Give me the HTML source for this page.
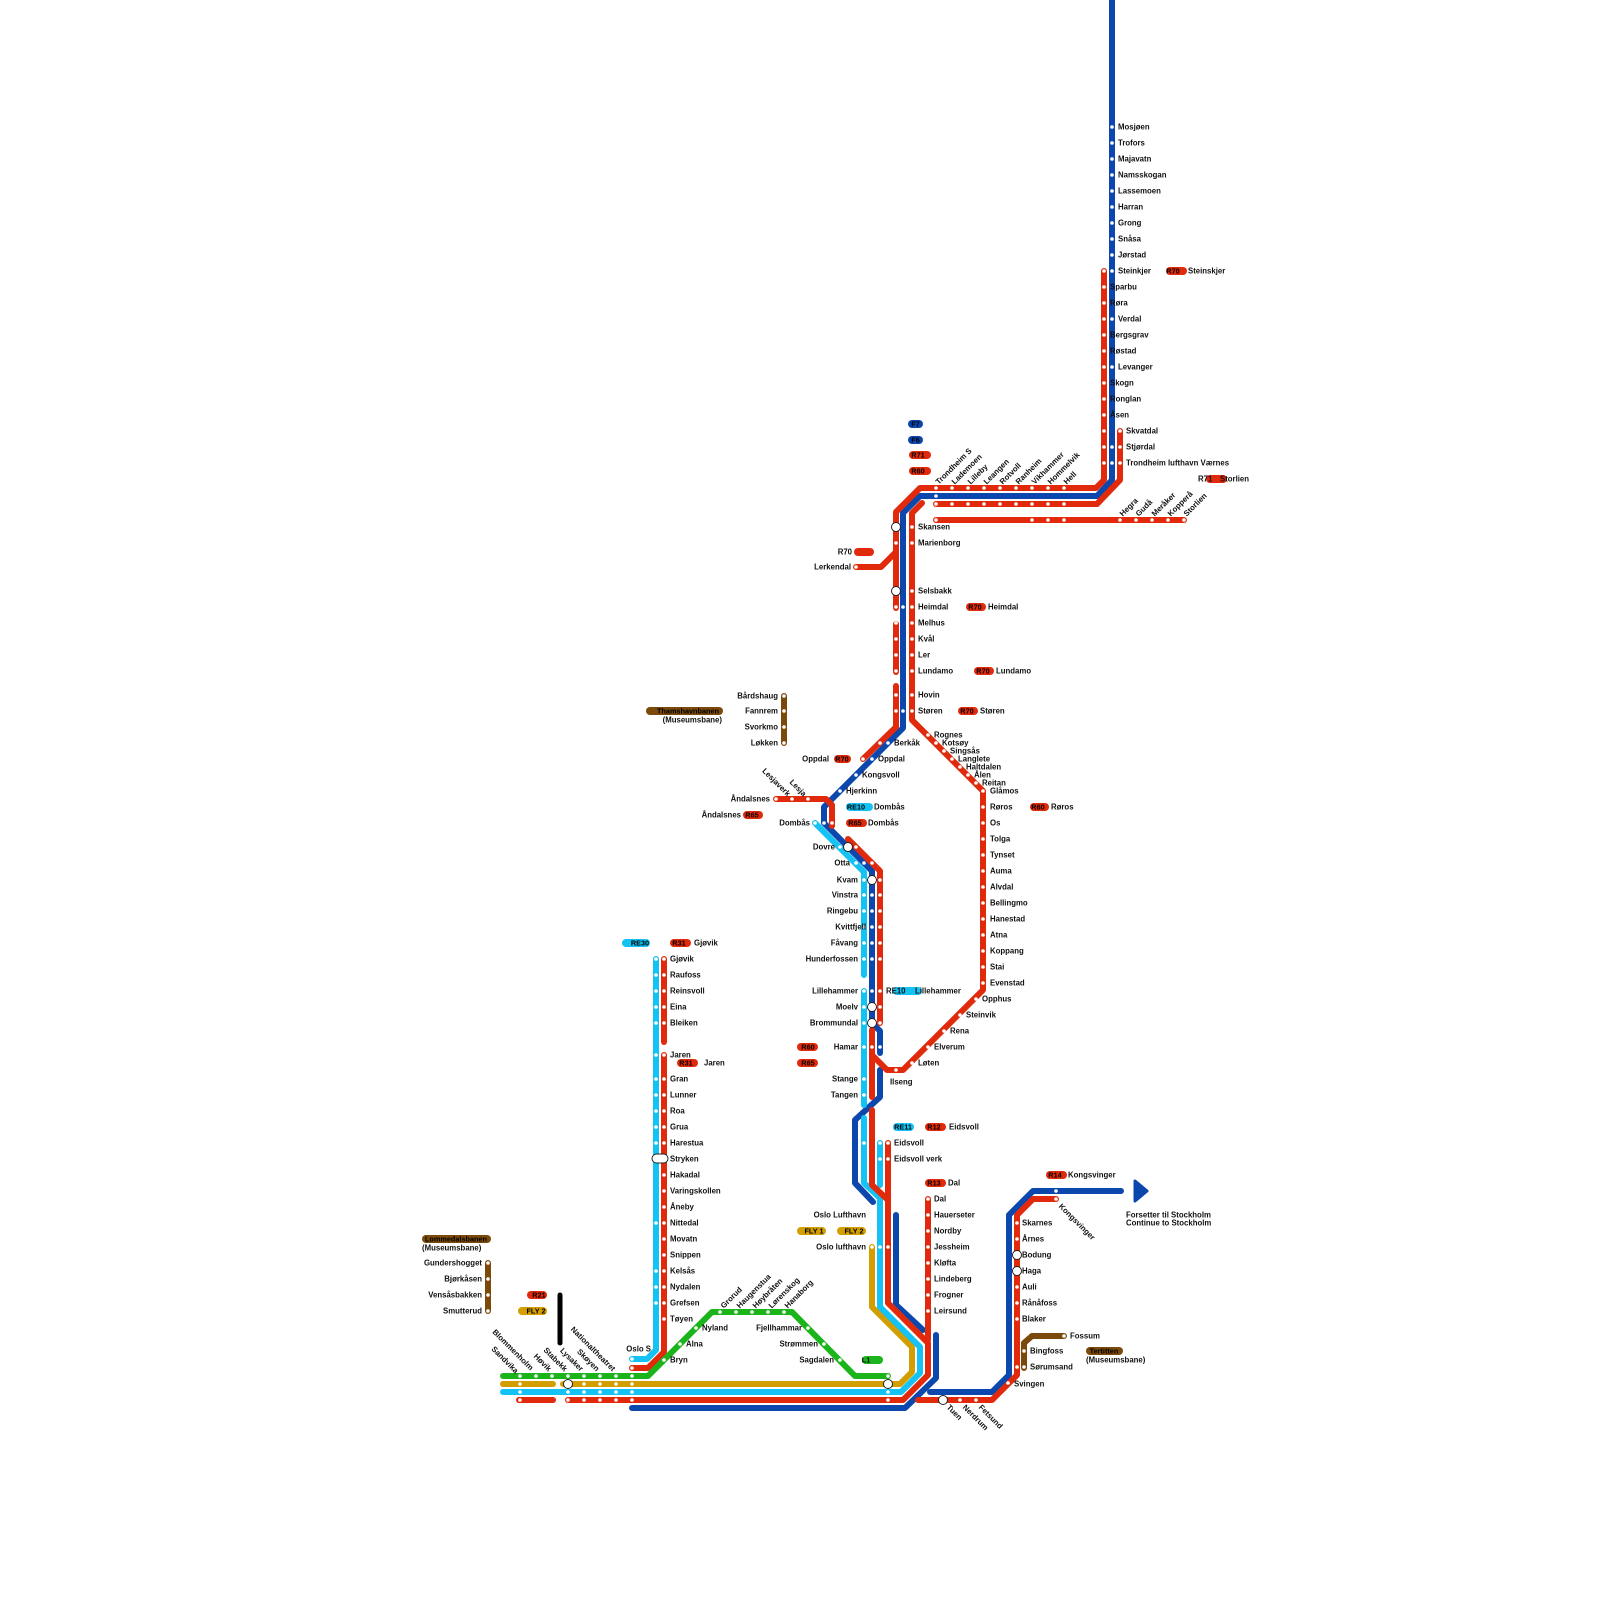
<!DOCTYPE html>
<html><head><meta charset="utf-8"><style>
html,body{margin:0;padding:0;background:#fff;}
svg{display:block;}
text{font-family:"Liberation Sans",Arial,sans-serif;font-size:7.8px;font-weight:bold;fill:#111;dominant-baseline:central;}
.e{text-anchor:end;}
.m{text-anchor:middle;font-size:7.3px;fill:#000;}
.l{fill:none;stroke-width:6;stroke-linecap:round;stroke-linejoin:round;}
.b{stroke:#0b47ad}.r{stroke:#e12a0b}.c{stroke:#14c2f3}.g{stroke:#1bb51b}.y{stroke:#d39e00}.w{stroke:#7b4a0b}
.d{fill:#fff}
.bc{fill:#fff;stroke:#222;stroke-width:1}
</style></head><body>
<svg width="1600" height="1600" viewBox="0 0 1600 1600" xmlns="http://www.w3.org/2000/svg">
<!-- BLUE -->
<path class="l b" d="M1112,0 V480 L1097,496 H920 L903,513 V728 L824,807 V823 L872,871 V1023 L880,1031 V1053"/>
<path class="l b" d="M880,1070 V1097 L855,1120 V1183 L873,1202"/>
<path class="l b" d="M896,1215 V1305 L923,1330"/>
<path class="l b" d="M632,1408 H905 L936,1378 V1335"/>
<path class="l b" d="M930,1392 H992 L1009,1375 V1215 L1033,1191 H1121"/>
<path d="M1135,1181 L1147,1191 L1135,1201 Z" fill="#0b47ad" stroke="#0b47ad" stroke-width="3" stroke-linejoin="round"/>
<!-- GOLD -->
<path class="l y" d="M872,1247 V1307 L912,1347 V1372 L900,1384 H563"/>
<path class="l y" d="M503,1384 H553"/>
<!-- CYAN -->
<path class="l c" d="M815,823 L864,872 V975"/>
<path class="l c" d="M864,991 V1105"/>
<path class="l c" d="M864,1118 V1183 L880,1198 V1307 L920,1347 V1373 L901,1392 H503"/>
<path class="l c" d="M880,1143 V1185"/>
<path class="l c" d="M656,959 V1350 L647,1359 H632"/>
<!-- RED -->
<path class="l r" d="M1104,271 V480 L1096,488 H920 L896,512 V608"/>
<path class="l r" d="M1120,431 V480 L1097,504 H936"/>
<path class="l r" d="M936,520 H1184"/>
<path class="l r" d="M922,503 L912,513 V720 L983,791 V990 L903,1070 H887 L872,1055"/>
<path class="l r" d="M896,624 V672"/>
<path class="l r" d="M896,686 V727 L863,759"/>
<path class="l r" d="M856,567 H881 L896,552"/>
<path class="l r" d="M776,799 H826 L832,805 V826"/>
<path class="l r" d="M848,839 L880,871 V1023"/>
<path class="l r" d="M872,1030 V1097"/>
<path class="l r" d="M872,1110 V1185 L888,1200"/>
<path class="l r" d="M888,1143 V1303 L928,1343 V1375 L903,1400 H568"/>
<path class="l r" d="M928,1199 V1340"/>
<path class="l r" d="M1056,1199 H1033 L1017,1215 V1375 L992,1400 H918"/>
<path class="l r" d="M519,1400 H553"/>
<path class="l r" d="M664,959 V1042"/>
<path class="l r" d="M664,1055 V1352 L648,1368 H632"/>
<!-- GREEN -->
<path class="l g" d="M503,1376 H648 L712,1312 H792 L855,1376 H888"/>
<!-- BLACK -->
<path d="M560,1295 V1343" stroke="#000" stroke-width="5" stroke-linecap="round"/>
<!-- BROWN -->
<path class="l w" d="M784,696 V743"/>
<path class="l w" d="M488,1263 V1311"/>
<path class="l w" d="M1024,1368 V1343 L1032,1336 H1064"/>

<!-- DOTS -->
<g class="d">
<circle cx="1112" cy="127" r="1.8"/><circle cx="1112" cy="143" r="1.8"/><circle cx="1112" cy="159" r="1.8"/><circle cx="1112" cy="175" r="1.8"/><circle cx="1112" cy="191" r="1.8"/><circle cx="1112" cy="207" r="1.8"/><circle cx="1112" cy="223" r="1.8"/><circle cx="1112" cy="239" r="1.8"/><circle cx="1112" cy="255" r="1.8"/><circle cx="1112" cy="271" r="1.8"/><circle cx="1112" cy="319" r="1.8"/><circle cx="1112" cy="367" r="1.8"/><circle cx="1112" cy="447" r="1.8"/><circle cx="1112" cy="463" r="1.8"/>
<circle cx="1104" cy="271" r="1.8"/><circle cx="1104" cy="287" r="1.8"/><circle cx="1104" cy="303" r="1.8"/><circle cx="1104" cy="319" r="1.8"/><circle cx="1104" cy="335" r="1.8"/><circle cx="1104" cy="351" r="1.8"/><circle cx="1104" cy="367" r="1.8"/><circle cx="1104" cy="383" r="1.8"/><circle cx="1104" cy="399" r="1.8"/><circle cx="1104" cy="415" r="1.8"/><circle cx="1104" cy="431" r="1.8"/><circle cx="1104" cy="447" r="1.8"/><circle cx="1104" cy="463" r="1.8"/>
<circle cx="1120" cy="431" r="1.8"/><circle cx="1120" cy="447" r="1.8"/><circle cx="1120" cy="463" r="1.8"/>
<circle cx="936" cy="488" r="1.8"/><circle cx="952" cy="488" r="1.8"/><circle cx="968" cy="488" r="1.8"/><circle cx="984" cy="488" r="1.8"/><circle cx="1000" cy="488" r="1.8"/><circle cx="1016" cy="488" r="1.8"/><circle cx="1032" cy="488" r="1.8"/><circle cx="1048" cy="488" r="1.8"/><circle cx="1064" cy="488" r="1.8"/>
<circle cx="936" cy="496" r="1.8"/>
<circle cx="936" cy="504" r="1.8"/><circle cx="952" cy="504" r="1.8"/><circle cx="968" cy="504" r="1.8"/><circle cx="984" cy="504" r="1.8"/><circle cx="1000" cy="504" r="1.8"/><circle cx="1016" cy="504" r="1.8"/><circle cx="1032" cy="504" r="1.8"/><circle cx="1048" cy="504" r="1.8"/><circle cx="1064" cy="504" r="1.8"/>
<circle cx="936" cy="520" r="1.8"/><circle cx="1032" cy="520" r="1.8"/><circle cx="1048" cy="520" r="1.8"/><circle cx="1064" cy="520" r="1.8"/><circle cx="1120" cy="520" r="1.8"/><circle cx="1136" cy="520" r="1.8"/><circle cx="1152" cy="520" r="1.8"/><circle cx="1168" cy="520" r="1.8"/><circle cx="1184" cy="520" r="1.8"/>
<circle cx="912" cy="527" r="1.8"/><circle cx="912" cy="543" r="1.8"/><circle cx="912" cy="591" r="1.8"/><circle cx="912" cy="607" r="1.8"/><circle cx="912" cy="623" r="1.8"/><circle cx="912" cy="639" r="1.8"/><circle cx="912" cy="655" r="1.8"/><circle cx="912" cy="671" r="1.8"/><circle cx="912" cy="695" r="1.8"/><circle cx="912" cy="711" r="1.8"/>
<circle cx="903" cy="607" r="1.8"/><circle cx="903" cy="711" r="1.8"/>
<circle cx="896" cy="543" r="1.8"/><circle cx="896" cy="607" r="1.8"/><circle cx="896" cy="623" r="1.8"/><circle cx="896" cy="639" r="1.8"/><circle cx="896" cy="655" r="1.8"/><circle cx="896" cy="671" r="1.8"/><circle cx="896" cy="695" r="1.8"/><circle cx="896" cy="711" r="1.8"/>
<circle cx="856" cy="567" r="1.8"/>
<circle cx="880" cy="743" r="1.8"/><circle cx="888" cy="743" r="1.8"/><circle cx="863" cy="759" r="1.8"/><circle cx="872" cy="759" r="1.8"/><circle cx="856" cy="775" r="1.8"/><circle cx="840" cy="791" r="1.8"/>
<circle cx="776" cy="799" r="1.8"/><circle cx="792" cy="799" r="1.8"/><circle cx="808" cy="799" r="1.8"/>
<circle cx="815" cy="823" r="1.8"/><circle cx="824" cy="823" r="1.8"/><circle cx="832" cy="823" r="1.8"/>
<circle cx="840" cy="847" r="1.8"/><circle cx="856" cy="847" r="1.8"/>
<circle cx="856" cy="863" r="1.8"/><circle cx="864" cy="863" r="1.8"/><circle cx="872" cy="863" r="1.8"/>
<circle cx="864" cy="880" r="1.8"/><circle cx="880" cy="880" r="1.8"/>
<circle cx="864" cy="895" r="1.8"/><circle cx="872" cy="895" r="1.8"/><circle cx="880" cy="895" r="1.8"/>
<circle cx="864" cy="911" r="1.8"/><circle cx="872" cy="911" r="1.8"/><circle cx="880" cy="911" r="1.8"/>
<circle cx="864" cy="927" r="1.8"/><circle cx="872" cy="927" r="1.8"/><circle cx="880" cy="927" r="1.8"/>
<circle cx="864" cy="943" r="1.8"/><circle cx="872" cy="943" r="1.8"/><circle cx="880" cy="943" r="1.8"/>
<circle cx="864" cy="959" r="1.8"/><circle cx="872" cy="959" r="1.8"/><circle cx="880" cy="959" r="1.8"/>
<circle cx="864" cy="991" r="1.8"/><circle cx="872" cy="991" r="1.8"/><circle cx="880" cy="991" r="1.8"/>
<circle cx="864" cy="1007" r="1.8"/><circle cx="880" cy="1007" r="1.8"/>
<circle cx="864" cy="1023" r="1.8"/><circle cx="880" cy="1023" r="1.8"/>
<circle cx="864" cy="1047" r="1.8"/><circle cx="872" cy="1047" r="1.8"/><circle cx="880" cy="1047" r="1.8"/>
<circle cx="864" cy="1079" r="1.8"/><circle cx="864" cy="1095" r="1.8"/>
<circle cx="928" cy="735" r="1.8"/><circle cx="936" cy="743" r="1.8"/><circle cx="944" cy="751" r="1.8"/><circle cx="952" cy="759" r="1.8"/><circle cx="960" cy="767" r="1.8"/><circle cx="968" cy="775" r="1.8"/><circle cx="976" cy="783" r="1.8"/>
<circle cx="983" cy="791" r="1.8"/><circle cx="983" cy="807" r="1.8"/><circle cx="983" cy="823" r="1.8"/><circle cx="983" cy="839" r="1.8"/><circle cx="983" cy="855" r="1.8"/><circle cx="983" cy="871" r="1.8"/><circle cx="983" cy="887" r="1.8"/><circle cx="983" cy="903" r="1.8"/><circle cx="983" cy="919" r="1.8"/><circle cx="983" cy="935" r="1.8"/><circle cx="983" cy="951" r="1.8"/><circle cx="983" cy="967" r="1.8"/><circle cx="983" cy="983" r="1.8"/>
<circle cx="976" cy="999" r="1.8"/><circle cx="960" cy="1015" r="1.8"/><circle cx="944" cy="1031" r="1.8"/><circle cx="928" cy="1047" r="1.8"/><circle cx="912" cy="1063" r="1.8"/><circle cx="896" cy="1070" r="1.8"/>
<circle cx="864" cy="1143" r="1.8"/><circle cx="880" cy="1143" r="1.8"/><circle cx="888" cy="1143" r="1.8"/><circle cx="880" cy="1159" r="1.8"/><circle cx="888" cy="1159" r="1.8"/>
<circle cx="872" cy="1247" r="1.8"/><circle cx="880" cy="1247" r="1.8"/><circle cx="888" cy="1247" r="1.8"/>
<circle cx="928" cy="1199" r="1.8"/><circle cx="928" cy="1215" r="1.8"/><circle cx="928" cy="1231" r="1.8"/><circle cx="928" cy="1247" r="1.8"/><circle cx="928" cy="1263" r="1.8"/><circle cx="928" cy="1279" r="1.8"/><circle cx="928" cy="1295" r="1.8"/><circle cx="928" cy="1311" r="1.8"/>
<circle cx="1056" cy="1199" r="1.8"/><circle cx="1056" cy="1191" r="1.8"/>
<circle cx="1017" cy="1223" r="1.8"/><circle cx="1017" cy="1239" r="1.8"/><circle cx="1017" cy="1287" r="1.8"/><circle cx="1017" cy="1303" r="1.8"/><circle cx="1017" cy="1319" r="1.8"/><circle cx="1017" cy="1367" r="1.8"/><circle cx="1008" cy="1383" r="1.8"/>
<circle cx="1024" cy="1351" r="1.8"/><circle cx="1024" cy="1367" r="1.8"/><circle cx="1064" cy="1336" r="1.8"/>
<circle cx="960" cy="1400" r="1.8"/><circle cx="976" cy="1400" r="1.8"/>
<circle cx="664" cy="959" r="1.8"/><circle cx="664" cy="975" r="1.8"/><circle cx="664" cy="991" r="1.8"/><circle cx="664" cy="1007" r="1.8"/><circle cx="664" cy="1023" r="1.8"/><circle cx="664" cy="1055" r="1.8"/><circle cx="664" cy="1079" r="1.8"/><circle cx="664" cy="1095" r="1.8"/><circle cx="664" cy="1111" r="1.8"/><circle cx="664" cy="1127" r="1.8"/><circle cx="664" cy="1143" r="1.8"/><circle cx="664" cy="1175" r="1.8"/><circle cx="664" cy="1191" r="1.8"/><circle cx="664" cy="1207" r="1.8"/><circle cx="664" cy="1223" r="1.8"/><circle cx="664" cy="1239" r="1.8"/><circle cx="664" cy="1255" r="1.8"/><circle cx="664" cy="1271" r="1.8"/><circle cx="664" cy="1287" r="1.8"/><circle cx="664" cy="1303" r="1.8"/><circle cx="664" cy="1319" r="1.8"/>
<circle cx="656" cy="959" r="1.8"/><circle cx="656" cy="975" r="1.8"/><circle cx="656" cy="991" r="1.8"/><circle cx="656" cy="1007" r="1.8"/><circle cx="656" cy="1023" r="1.8"/><circle cx="656" cy="1055" r="1.8"/><circle cx="656" cy="1079" r="1.8"/><circle cx="656" cy="1095" r="1.8"/><circle cx="656" cy="1111" r="1.8"/><circle cx="656" cy="1127" r="1.8"/><circle cx="656" cy="1143" r="1.8"/><circle cx="656" cy="1223" r="1.8"/><circle cx="656" cy="1271" r="1.8"/><circle cx="656" cy="1287" r="1.8"/><circle cx="656" cy="1303" r="1.8"/>
<circle cx="632" cy="1359" r="1.8"/><circle cx="632" cy="1368" r="1.8"/>
<circle cx="664" cy="1360" r="1.8"/><circle cx="680" cy="1344" r="1.8"/><circle cx="696" cy="1328" r="1.8"/>
<circle cx="720" cy="1312" r="1.8"/><circle cx="736" cy="1312" r="1.8"/><circle cx="752" cy="1312" r="1.8"/><circle cx="768" cy="1312" r="1.8"/><circle cx="784" cy="1312" r="1.8"/>
<circle cx="808" cy="1328" r="1.8"/><circle cx="824" cy="1344" r="1.8"/><circle cx="840" cy="1360" r="1.8"/>
<circle cx="520" cy="1376" r="1.8"/><circle cx="536" cy="1376" r="1.8"/><circle cx="552" cy="1376" r="1.8"/><circle cx="568" cy="1376" r="1.8"/><circle cx="584" cy="1376" r="1.8"/><circle cx="600" cy="1376" r="1.8"/><circle cx="616" cy="1376" r="1.8"/><circle cx="632" cy="1376" r="1.8"/><circle cx="888" cy="1376" r="1.8"/>
<circle cx="520" cy="1384" r="1.8"/><circle cx="584" cy="1384" r="1.8"/><circle cx="600" cy="1384" r="1.8"/><circle cx="616" cy="1384" r="1.8"/><circle cx="632" cy="1384" r="1.8"/>
<circle cx="520" cy="1392" r="1.8"/><circle cx="568" cy="1392" r="1.8"/><circle cx="584" cy="1392" r="1.8"/><circle cx="600" cy="1392" r="1.8"/><circle cx="616" cy="1392" r="1.8"/><circle cx="632" cy="1392" r="1.8"/><circle cx="888" cy="1392" r="1.8"/>
<circle cx="520" cy="1400" r="1.8"/><circle cx="568" cy="1400" r="1.8"/><circle cx="584" cy="1400" r="1.8"/><circle cx="600" cy="1400" r="1.8"/><circle cx="616" cy="1400" r="1.8"/><circle cx="632" cy="1400" r="1.8"/><circle cx="888" cy="1400" r="1.8"/>
<circle cx="784" cy="696" r="1.8"/><circle cx="784" cy="711" r="1.8"/><circle cx="784" cy="727" r="1.8"/><circle cx="784" cy="743" r="1.8"/>
<circle cx="488" cy="1263" r="1.8"/><circle cx="488" cy="1279" r="1.8"/><circle cx="488" cy="1295" r="1.8"/><circle cx="488" cy="1311" r="1.8"/>
</g>
<g class="bc">
<circle cx="896" cy="527" r="4.5"/><circle cx="896" cy="591" r="4.5"/>
<circle cx="848" cy="847" r="4.5"/><circle cx="872" cy="880" r="4.5"/><circle cx="872" cy="1007" r="4.5"/><circle cx="872" cy="1023" r="4.5"/>
<circle cx="1017" cy="1255" r="4.5"/><circle cx="1017" cy="1271" r="4.5"/>
<circle cx="943" cy="1400" r="4.5"/>
<circle cx="568" cy="1384" r="4.5"/><circle cx="888" cy="1384" r="4.5"/>
<rect x="652" y="1154" width="16" height="9" rx="4.5"/>
</g>

<g>
<rect x="908" y="420" width="15" height="8" rx="4" fill="#0b47ad"/><text class="m" x="915.5" y="424">F7</text>
<rect x="908" y="436" width="15" height="8" rx="4" fill="#0b47ad"/><text class="m" x="915.5" y="440">F6</text>
<rect x="909" y="451" width="22" height="8" rx="4" fill="#e12a0b"/><text class="m" x="918" y="455">R71</text>
<rect x="909" y="467" width="22" height="8" rx="4" fill="#e12a0b"/><text class="m" x="918" y="471">R60</text>
<rect x="1166" y="267" width="21" height="8" rx="4" fill="#e12a0b"/><text class="m" x="1173" y="271">R70</text>
<rect x="1206" y="475" width="21" height="8" rx="4" fill="#e12a0b"/>
<rect x="966" y="603" width="20" height="8" rx="4" fill="#e12a0b"/><text class="m" x="975" y="607">R70</text>
<rect x="974" y="667" width="20" height="8" rx="4" fill="#e12a0b"/><text class="m" x="983" y="671">R70</text>
<rect x="958" y="707" width="20" height="8" rx="4" fill="#e12a0b"/><text class="m" x="967" y="711">R70</text>
<rect x="854" y="548" width="20" height="8" rx="4" fill="#e12a0b"/>
<rect x="834" y="755" width="17" height="8" rx="4" fill="#e12a0b"/><text class="m" x="842" y="759">R70</text>
<rect x="743" y="811" width="20" height="8" rx="4" fill="#e12a0b"/><text class="m" x="752" y="815">R65</text>
<rect x="846" y="803" width="27" height="8" rx="4" fill="#14c2f3"/><text class="m" x="856" y="807">RE10</text>
<rect x="846" y="819" width="21" height="8" rx="4" fill="#e12a0b"/><text class="m" x="855" y="823">R65</text>
<rect x="893" y="987" width="29" height="8" rx="4" fill="#14c2f3"/>
<rect x="797" y="1043" width="21" height="8" rx="4" fill="#e12a0b"/><text class="m" x="808" y="1047">R60</text>
<rect x="797" y="1059" width="21" height="8" rx="4" fill="#e12a0b"/><text class="m" x="808" y="1063">R65</text>
<rect x="622" y="939" width="28" height="8" rx="4" fill="#14c2f3"/><text class="m" x="640" y="943">RE30</text>
<rect x="670" y="939" width="21" height="8" rx="4" fill="#e12a0b"/><text class="m" x="679" y="943">R31</text>
<rect x="677" y="1059" width="21" height="8" rx="4" fill="#e12a0b"/><text class="m" x="686" y="1063">R31</text>
<rect x="893" y="1123" width="21" height="8" rx="4" fill="#14c2f3"/><text class="m" x="903" y="1127">RE11</text>
<rect x="925" y="1123" width="21" height="8" rx="4" fill="#e12a0b"/><text class="m" x="934" y="1127">R12</text>
<rect x="925" y="1179" width="21" height="8" rx="4" fill="#e12a0b"/><text class="m" x="934" y="1183">R13</text>
<rect x="1046" y="1171" width="21" height="8" rx="4" fill="#e12a0b"/><text class="m" x="1055" y="1175">R14</text>
<rect x="797" y="1227" width="29" height="8" rx="4" fill="#d39e00"/><text class="m" x="814" y="1231">FLY 1</text>
<rect x="837" y="1227" width="29" height="8" rx="4" fill="#d39e00"/><text class="m" x="854" y="1231">FLY 2</text>
<rect x="862" y="1356" width="21" height="8" rx="4" fill="#1bb51b"/><text class="m" x="866" y="1360">L1</text>
<rect x="527" y="1291" width="20" height="8" rx="4" fill="#e12a0b"/><text class="m" x="539" y="1295">R21</text>
<rect x="518" y="1307" width="29" height="8" rx="4" fill="#d39e00"/><text class="m" x="536" y="1311">FLY 2</text>
<rect x="646" y="707" width="77" height="8" rx="4" fill="#7b4a0b"/><text class="m" x="688" y="711">Thamshavnbanen</text>
<rect x="422" y="1235" width="69" height="8" rx="4" fill="#7b4a0b"/><text class="m" x="456" y="1239">Lommedalsbanen</text>
<rect x="1086" y="1347" width="37" height="8" rx="4" fill="#7b4a0b"/><text class="m" x="1104" y="1351">Tertitten</text>
</g>

<g>
<text x="1118" y="127">Mosjøen</text><text x="1118" y="143">Trofors</text><text x="1118" y="159">Majavatn</text><text x="1118" y="175">Namsskogan</text><text x="1118" y="191">Lassemoen</text><text x="1118" y="207">Harran</text><text x="1118" y="223">Grong</text><text x="1118" y="239">Snåsa</text><text x="1118" y="255">Jørstad</text><text x="1118" y="271">Steinkjer</text>
<text x="1110" y="287">Sparbu</text><text x="1110" y="303">Røra</text><text x="1118" y="319">Verdal</text><text x="1110" y="335">Bergsgrav</text><text x="1110" y="351">Røstad</text><text x="1118" y="367">Levanger</text><text x="1110" y="383">Skogn</text><text x="1110" y="399">Ronglan</text><text x="1110" y="415">Åsen</text>
<text x="1126" y="431">Skvatdal</text><text x="1126" y="447">Stjørdal</text><text x="1126" y="463">Trondheim lufthavn Værnes</text>
<text x="1188" y="271">Steinskjer</text>
<text x="1198" y="479">R71</text><text x="1220" y="479">Storlien</text>
<text transform="translate(937,483) rotate(-45)">Trondheim S</text>
<text transform="translate(953,483) rotate(-45)">Lademoen</text>
<text transform="translate(969,483) rotate(-45)">Lilleby</text>
<text transform="translate(985,483) rotate(-45)">Leangen</text>
<text transform="translate(1001,483) rotate(-45)">Rotvoll</text>
<text transform="translate(1017,483) rotate(-45)">Ranheim</text>
<text transform="translate(1033,483) rotate(-45)">Vikhammer</text>
<text transform="translate(1049,483) rotate(-45)">Hommelvik</text>
<text transform="translate(1065,483) rotate(-45)">Hell</text>
<text transform="translate(1121,515) rotate(-45)">Hegra</text>
<text transform="translate(1137,515) rotate(-45)">Gudå</text>
<text transform="translate(1153,515) rotate(-45)">Meråker</text>
<text transform="translate(1169,515) rotate(-45)">Kopperå</text>
<text transform="translate(1185,515) rotate(-45)">Storlien</text>
<text x="918" y="527">Skansen</text><text x="918" y="543">Marienborg</text><text x="918" y="591">Selsbakk</text><text x="918" y="607">Heimdal</text><text x="918" y="623">Melhus</text><text x="918" y="639">Kvål</text><text x="918" y="655">Ler</text><text x="918" y="671">Lundamo</text><text x="918" y="695">Hovin</text><text x="918" y="711">Støren</text>
<text x="988" y="607">Heimdal</text><text x="996" y="671">Lundamo</text><text x="980" y="711">Støren</text>
<text class="e" x="852" y="552">R70</text><text class="e" x="851" y="567">Lerkendal</text>
<text x="894" y="743">Berkåk</text><text x="878" y="759">Oppdal</text><text class="e" x="829" y="759">Oppdal</text><text x="862" y="775">Kongsvoll</text><text x="846" y="791">Hjerkinn</text>
<text class="e" x="770" y="799">Åndalsnes</text><text class="e" x="741" y="815">Åndalsnes</text>
<text class="e" transform="translate(789,795) rotate(45)">Lesjaverk</text>
<text class="e" transform="translate(805,795) rotate(45)">Lesja</text>
<text x="874" y="807">Dombås</text><text x="868" y="823">Dombås</text><text class="e" x="810" y="823">Dombås</text>
<text class="e" x="835" y="847">Dovre</text><text class="e" x="850" y="863">Otta</text>
<text class="e" x="858" y="880">Kvam</text><text class="e" x="858" y="895">Vinstra</text><text class="e" x="858" y="911">Ringebu</text><text class="e" x="866" y="927">Kvittfjell</text><text class="e" x="858" y="943">Fåvang</text><text class="e" x="858" y="959">Hunderfossen</text><text class="e" x="858" y="991">Lillehammer</text><text class="e" x="858" y="1007">Moelv</text><text class="e" x="858" y="1023">Brommundal</text><text class="e" x="858" y="1047">Hamar</text><text class="e" x="858" y="1079">Stange</text><text class="e" x="858" y="1095">Tangen</text>
<text x="886" y="991">RE10</text><text x="915" y="991">Lillehammer</text>
<text x="934" y="735">Rognes</text><text x="942" y="743">Kotsøy</text><text x="950" y="751">Singsås</text><text x="958" y="759">Langlete</text><text x="966" y="767">Haltdalen</text><text x="974" y="775">Ålen</text><text x="982" y="783">Reitan</text>
<text x="990" y="791">Glåmos</text><text x="990" y="807">Røros</text><text x="990" y="823">Os</text><text x="990" y="839">Tolga</text><text x="990" y="855">Tynset</text><text x="990" y="871">Auma</text><text x="990" y="887">Alvdal</text><text x="990" y="903">Bellingmo</text><text x="990" y="919">Hanestad</text><text x="990" y="935">Atna</text><text x="990" y="951">Koppang</text><text x="990" y="967">Stai</text><text x="990" y="983">Evenstad</text>
<text x="982" y="999">Opphus</text><text x="966" y="1015">Steinvik</text><text x="950" y="1031">Rena</text><text x="934" y="1047">Elverum</text><text x="918" y="1063">Løten</text><text x="890" y="1082">Ilseng</text>
<rect x="1030" y="803" width="19" height="8" rx="4" fill="#e12a0b"/><text class="m" x="1038" y="807">R60</text><text x="1051" y="807">Røros</text>
<text class="e" x="778" y="696">Bårdshaug</text><text class="e" x="778" y="711">Fannrem</text><text class="e" x="778" y="727">Svorkmo</text><text class="e" x="778" y="743">Løkken</text>
<text class="e" x="722" y="720">(Museumsbane)</text>
<text x="694" y="943">Gjøvik</text><text x="704" y="1063">Jaren</text>
<text x="670" y="959">Gjøvik</text><text x="670" y="975">Raufoss</text><text x="670" y="991">Reinsvoll</text><text x="670" y="1007">Eina</text><text x="670" y="1023">Bleiken</text><text x="670" y="1055">Jaren</text><text x="670" y="1079">Gran</text><text x="670" y="1095">Lunner</text><text x="670" y="1111">Roa</text><text x="670" y="1127">Grua</text><text x="670" y="1143">Harestua</text><text x="670" y="1159">Stryken</text><text x="670" y="1175">Hakadal</text><text x="670" y="1191">Varingskollen</text><text x="670" y="1207">Åneby</text><text x="670" y="1223">Nittedal</text><text x="670" y="1239">Movatn</text><text x="670" y="1255">Snippen</text><text x="670" y="1271">Kelsås</text><text x="670" y="1287">Nydalen</text><text x="670" y="1303">Grefsen</text><text x="670" y="1319">Tøyen</text>
<text class="e" x="651" y="1349">Oslo S</text><text x="670" y="1360">Bryn</text><text x="686" y="1344">Alna</text><text x="702" y="1328">Nyland</text>
<text transform="translate(722,1307) rotate(-45)">Grorud</text>
<text transform="translate(738,1307) rotate(-45)">Haugenstua</text>
<text transform="translate(754,1307) rotate(-45)">Høybråten</text>
<text transform="translate(770,1307) rotate(-45)">Lørenskog</text>
<text transform="translate(786,1307) rotate(-45)">Hanaborg</text>
<text class="e" x="802" y="1328">Fjellhammar</text><text class="e" x="818" y="1344">Strømmen</text><text class="e" x="834" y="1360">Sagdalen</text>
<text class="e" transform="translate(517,1372) rotate(45)">Sandvika</text>
<text class="e" transform="translate(532,1369) rotate(45)">Blommenholm</text>
<text class="e" transform="translate(550,1370) rotate(45)">Høvik</text>
<text class="e" transform="translate(566,1370) rotate(45)">Stabekk</text>
<text class="e" transform="translate(582,1370) rotate(45)">Lysaker</text>
<text class="e" transform="translate(598,1370) rotate(45)">Skøyen</text>
<text class="e" transform="translate(614,1370) rotate(45)">Nationaltheatret</text>
<text x="422" y="1248">(Museumsbane)</text>
<text class="e" x="482" y="1263">Gundershogget</text><text class="e" x="482" y="1279">Bjørkåsen</text><text class="e" x="482" y="1295">Vensåsbakken</text><text class="e" x="482" y="1311">Smutterud</text>
<text x="949" y="1127">Eidsvoll</text><text x="894" y="1143">Eidsvoll</text><text x="894" y="1159">Eidsvoll verk</text>
<text x="948" y="1183">Dal</text>
<text class="e" x="866" y="1215">Oslo Lufthavn</text><text class="e" x="866" y="1247">Oslo lufthavn</text>
<text x="934" y="1199">Dal</text><text x="934" y="1215">Hauerseter</text><text x="934" y="1231">Nordby</text><text x="934" y="1247">Jessheim</text><text x="934" y="1263">Kløfta</text><text x="934" y="1279">Lindeberg</text><text x="934" y="1295">Frogner</text><text x="934" y="1311">Leirsund</text>
<text x="1068" y="1175">Kongsvinger</text>
<text transform="translate(1060,1205) rotate(45)">Kongsvinger</text>
<text x="1126" y="1215">Forsetter til Stockholm</text><text x="1126" y="1223">Continue to Stockholm</text>
<text x="1022" y="1223">Skarnes</text><text x="1022" y="1239">Årnes</text><text x="1022" y="1255">Bodung</text><text x="1022" y="1271">Haga</text><text x="1022" y="1287">Auli</text><text x="1022" y="1303">Rånåfoss</text><text x="1022" y="1319">Blaker</text>
<text x="1070" y="1336">Fossum</text><text x="1030" y="1351">Bingfoss</text><text x="1030" y="1367">Sørumsand</text><text x="1014" y="1384">Svingen</text>
<text x="1086" y="1360">(Museumsbane)</text>
<text transform="translate(948,1406) rotate(45)">Tuen</text>
<text transform="translate(964,1406) rotate(45)">Nerdrum</text>
<text transform="translate(980,1406) rotate(45)">Fetsund</text>
</g>
</svg>
</body></html>
